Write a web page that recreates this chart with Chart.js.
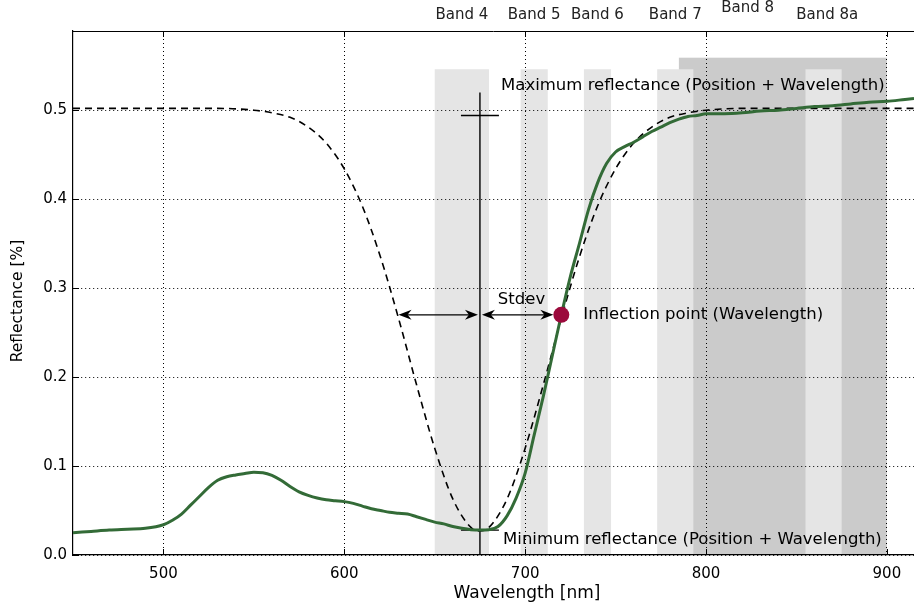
<!DOCTYPE html>
<html>
<head>
<meta charset="utf-8">
<script src="https://cdn.jsdelivr.net/npm/chart.js@4.4.1/dist/chart.umd.min.js"></script>
<style>
  html, body { margin: 0; padding: 0; background: #fff; overflow: hidden; }
  canvas { display: block; }
</style>
</head>
<body>
<canvas id="chart" width="922" height="610"></canvas>
<script>
// measured reflectance spectrum (green)
const specWl = [450, 460, 470, 480, 490, 500, 505, 510, 515, 520, 525, 530, 535, 540, 545, 550, 555, 560, 565, 570,
  575, 580, 585, 590, 595, 600, 605, 610, 615, 620, 625, 630, 635, 640, 645, 650, 655, 660, 665, 670,
  675, 680, 685, 690, 695, 700, 705, 710, 715, 720, 725, 730, 735, 740, 745, 750, 755, 760, 765, 770,
  775, 780, 785, 790, 795, 800, 810, 820, 830, 840, 850, 860, 870, 880, 890, 900, 910, 915];
const specRefl = [0.025, 0.0265, 0.028, 0.029, 0.030, 0.034, 0.039, 0.046, 0.056, 0.066, 0.076, 0.084, 0.088, 0.090, 0.0915, 0.093, 0.0925, 0.0895, 0.084, 0.077,
  0.071, 0.067, 0.064, 0.062, 0.061, 0.060, 0.058, 0.055, 0.052, 0.050, 0.048, 0.047, 0.046, 0.043, 0.040, 0.037, 0.035, 0.032, 0.030, 0.0285,
  0.028, 0.0285, 0.032, 0.044, 0.064, 0.092, 0.135, 0.178, 0.224, 0.270, 0.313, 0.350, 0.388, 0.418, 0.440, 0.453, 0.459, 0.464, 0.470, 0.476,
  0.481, 0.486, 0.490, 0.493, 0.494, 0.496, 0.496, 0.497, 0.499, 0.500, 0.502, 0.504, 0.505, 0.507, 0.509, 0.510, 0.512, 0.513];

// inverted gaussian fit (dashed)
const fitWl = [450, 500, 530, 550, 560, 570, 580, 590, 600, 610, 620, 630, 640, 650, 660, 670, 675,
  680, 690, 700, 710, 720, 730, 740, 750, 760, 770, 780, 790, 800, 820, 915];
const fitRefl = [0.502, 0.502, 0.502, 0.500, 0.497, 0.492, 0.481, 0.463, 0.434, 0.392, 0.335, 0.266, 0.191, 0.120, 0.063, 0.031, 0.027,
  0.031, 0.063, 0.120, 0.191, 0.266, 0.335, 0.392, 0.434, 0.463, 0.481, 0.492, 0.497, 0.500, 0.502, 0.502];

const xTicks = [500, 600, 700, 800, 900];
const yTicks = [0, 0.1, 0.2, 0.3, 0.4, 0.5];

// Sentinel-2 bands
const bandNames = ['Band 4', 'Band 5', 'Band 6', 'Band 7', 'Band 8', 'Band 8a'];
const bandStart = [650, 697.5, 732.5, 773, 785, 855];
const bandEnd = [680, 712.5, 747.5, 793, 900, 875];
const bandTop = [0.546, 0.546, 0.546, 0.546, 0.559, 0.546];
const bandLabelWl = [665, 705, 740, 783, 823, 867];

// annotation values
const minRefl = [675, 0.028];
const maxRefl = [675, 0.494];
const inflection = [720, 0.27];
const stdevFrom = 630;

const FONT = '"DejaVu Sans", sans-serif';

function drawHead(ctx, x, y, dir) {
  // filled arrow head, tip at (x, y), dir = -1 left, 1 right
  ctx.beginPath();
  ctx.moveTo(x, y);
  ctx.lineTo(x - dir * 13, y - 5);
  ctx.lineTo(x - dir * 9, y);
  ctx.lineTo(x - dir * 13, y + 5);
  ctx.closePath();
  ctx.fill();
}

function drawArrow(ctx, x0, x1, y) {
  ctx.beginPath();
  ctx.moveTo(x0 + 4, y);
  ctx.lineTo(x1 - 4, y);
  ctx.stroke();
  drawHead(ctx, x0, y, -1);
  drawHead(ctx, x1, y, 1);
}

const decor = {
  id: 'decor',
  beforeDraw(chart) {
    const { ctx, scales: { x, y } } = chart;
    ctx.save();
    [4, 0, 1, 2, 3, 5].forEach(i => {
      ctx.fillStyle = i === 4 ? '#cbcbcb' : '#e5e5e5';
      const x0 = x.getPixelForValue(bandStart[i]);
      const x1 = x.getPixelForValue(bandEnd[i]);
      const yt = y.getPixelForValue(bandTop[i]);
      const yb = y.getPixelForValue(0);
      ctx.fillRect(x0, yt, x1 - x0, yb - yt);
    });
    ctx.restore();
  },
  afterDatasetsDraw(chart) {
    const { ctx, scales: { x, y } } = chart;
    ctx.save();
    ctx.strokeStyle = '#000';
    ctx.fillStyle = '#000';
    ctx.lineWidth = 1.2;
    const ay = y.getPixelForValue(inflection[1]);
    const xc = x.getPixelForValue(minRefl[0]);
    drawArrow(ctx, x.getPixelForValue(stdevFrom), xc - 2, ay);
    drawArrow(ctx, xc + 2, x.getPixelForValue(inflection[0]) - 8, ay);

    ctx.font = '16.5px ' + FONT;
    ctx.textBaseline = 'middle';
    ctx.textAlign = 'center';
    ctx.fillText('Stdev', x.getPixelForValue(698), ay - 15);
    ctx.textAlign = 'left';
    ctx.fillText('Inflection point (Wavelength)', x.getPixelForValue(inflection[0]) + 22, ay);
    ctx.fillText('Maximum reflectance (Position + Wavelength)', x.getPixelForValue(686.7), y.getPixelForValue(0.527));
    ctx.fillText('Minimum reflectance (Position + Wavelength)', x.getPixelForValue(687.8), y.getPixelForValue(0.017));
    ctx.restore();
  },
  afterDraw(chart) {
    const { ctx, chartArea: a, scales: { x, y } } = chart;
    ctx.save();
    ctx.strokeStyle = '#000';
    ctx.lineWidth = 1;
    // top spine
    ctx.beginPath();
    ctx.moveTo(a.left, a.top + 0.5);
    ctx.lineTo(a.right, a.top + 0.5);
    ctx.stroke();
    // inward ticks
    ctx.beginPath();
    xTicks.forEach(v => {
      const px = Math.round(x.getPixelForValue(v)) + 0.5;
      ctx.moveTo(px, a.bottom); ctx.lineTo(px, a.bottom - 6);
      ctx.moveTo(px, a.top); ctx.lineTo(px, a.top + 6);
    });
    yTicks.forEach(v => {
      const py = Math.round(y.getPixelForValue(v)) + 0.5;
      ctx.moveTo(a.left, py); ctx.lineTo(a.left + 6, py);
    });
    ctx.stroke();

    // band labels above the plot
    ctx.fillStyle = '#222';
    ctx.font = '15px ' + FONT;
    ctx.textAlign = 'center';
    ctx.textBaseline = 'middle';
    bandNames.forEach((name, i) => {
      ctx.fillText(name, x.getPixelForValue(bandLabelWl[i]), i === 4 ? 8 : 15);
    });

    // axis titles
    ctx.fillStyle = '#000';
    ctx.font = '17px ' + FONT;
    ctx.fillText('Wavelength [nm]', 527, 594);
    ctx.translate(18, 301);
    ctx.rotate(-Math.PI / 2);
    ctx.font = '15.5px ' + FONT;
    ctx.fillText('Reflectance [%]', 0, 0);
    ctx.restore();
  }
};

const pts = (xs, ys) => xs.map((v, i) => ({ x: v, y: ys[i] }));

new Chart(document.getElementById('chart'), {
  type: 'line',
  data: {
    datasets: [
      {
        data: [{ x: inflection[0], y: inflection[1] }],
        showLine: false,
        pointRadius: 8,
        pointBackgroundColor: '#9b0a3c',
        pointBorderWidth: 0
      },
      {
        data: pts(specWl, specRefl),
        borderColor: '#336b37',
        borderWidth: 3,
        pointRadius: 0,
        cubicInterpolationMode: 'monotone'
      },
      {
        data: pts(fitWl, fitRefl),
        borderColor: '#000',
        borderWidth: 1.6,
        borderDash: [7, 5],
        pointRadius: 0,
        cubicInterpolationMode: 'monotone'
      },
      {
        data: [{ x: minRefl[0], y: 0 }, { x: minRefl[0], y: 0.52 }],
        borderColor: '#000',
        borderWidth: 1.4,
        pointRadius: 0
      },
      {
        data: [{ x: maxRefl[0] - 10.5, y: maxRefl[1] }, { x: maxRefl[0] + 10.5, y: maxRefl[1] }],
        borderColor: '#000',
        borderWidth: 1.4,
        pointRadius: 0
      },
      {
        data: [{ x: minRefl[0] - 10.5, y: minRefl[1] }, { x: minRefl[0] + 10.5, y: minRefl[1] }],
        borderColor: '#000',
        borderWidth: 1.4,
        pointRadius: 0
      }
    ]
  },
  options: {
    responsive: false,
    animation: false,
    devicePixelRatio: 1,
    layout: { padding: { top: 31, right: 0, left: 0, bottom: 0 } },
    plugins: { legend: { display: false }, tooltip: { enabled: false } },
    scales: {
      x: {
        type: 'linear',
        min: 450,
        max: 915,
        afterFit: s => { s.height = 55; },
        afterBuildTicks: s => { s.ticks = xTicks.map(v => ({ value: v })); },
        grid: { color: '#000', lineWidth: 1, drawTicks: false },
        border: { display: true, color: '#000', width: 1.2, dash: [1, 3] },
        ticks: { color: '#000', font: { family: FONT, size: 15 }, padding: 10, callback: v => v }
      },
      y: {
        min: 0,
        max: 0.589,
        afterFit: s => { s.width = 73; },
        afterBuildTicks: s => { s.ticks = yTicks.map(v => ({ value: v })); },
        grid: { color: '#000', lineWidth: 1, drawTicks: false },
        border: { display: true, color: '#000', width: 1.2, dash: [1, 3] },
        ticks: { color: '#000', font: { family: FONT, size: 15 }, padding: 6, callback: v => v.toFixed(1) }
      }
    }
  },
  plugins: [decor]
});
</script>
</body>
</html>
